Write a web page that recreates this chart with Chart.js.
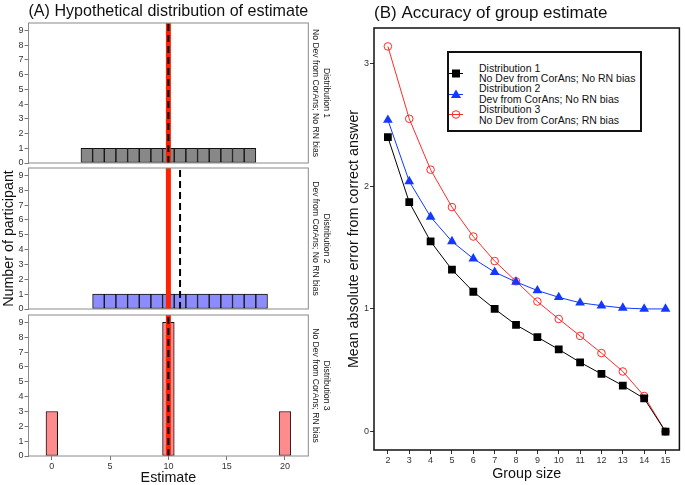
<!DOCTYPE html>
<html>
<head>
<meta charset="utf-8">
<script src="https://cdn.jsdelivr.net/npm/chart.js@4.4.0/dist/chart.umd.min.js"></script>
<style>
  body { margin: 0; background: #fff; font-family: "Liberation Sans", Arial, sans-serif; }
  #wrap { position: relative; width: 685px; height: 485px; overflow: hidden; }
  #wrap canvas { position: absolute; }
  #legend {
    position: absolute; left: 447px; top: 51px; width: 195px; height: 81px;
    box-sizing: border-box; border: 2px solid #111; background: #fff;
    padding-top: 9.5px; font-size: 10.5px; line-height: 10.4px; color: #111;
  }
  .item { position: relative; height: 20.8px; padding-left: 30px; white-space: nowrap; }
  .item svg { position: absolute; left: 0; top: 4.4px; }
</style>
</head>
<body>
<div id="wrap">
  <canvas id="dist1" width="340" height="165" style="left:0;top:0"></canvas>
  <canvas id="dist2" width="340" height="146" style="left:0;top:165px"></canvas>
  <canvas id="dist3" width="340" height="174" style="left:0;top:311px"></canvas>
  <canvas id="acc" width="345" height="485" style="left:340px;top:0"></canvas>
  <div id="legend"></div>
</div>
<script>
// (A) histograms: number of participants per estimate
const estimates = [0, 1, 2, 3, 4, 5, 6, 7, 8, 9, 10, 11, 12, 13, 14, 15, 16, 17, 18, 19, 20];
const dist1Counts = [0, 0, 0, 1, 1, 1, 1, 1, 1, 1, 1, 1, 1, 1, 1, 1, 1, 1, 0, 0, 0];
const dist2Counts = [0, 0, 0, 0, 1, 1, 1, 1, 1, 1, 1, 1, 1, 1, 1, 1, 1, 1, 1, 0, 0];
const dist3Counts = [3, 0, 0, 0, 0, 0, 0, 0, 0, 0, 9, 0, 0, 0, 0, 0, 0, 0, 0, 0, 3];
const correctAnswer = 10;
const groupMeans = [10, 11, 10];

const seriesNames = ["Distribution 1", "Distribution 2", "Distribution 3"];
const seriesNotes = ["No Dev from CorAns; No RN bias", "Dev from CorAns; No RN bias", "No Dev from CorAns; RN bias"];

// (B) mean absolute error by group size
const groupSizes = [2, 3, 4, 5, 6, 7, 8, 9, 10, 11, 12, 13, 14, 15];
const dist1Error = [2.40, 1.87, 1.55, 1.32, 1.14, 1.00, 0.87, 0.77, 0.67, 0.565, 0.47, 0.375, 0.27, 0];
const dist2Error = [2.54, 2.04, 1.75, 1.55, 1.41, 1.30, 1.22, 1.15, 1.095, 1.05, 1.027, 1.008, 1.0, 1.0];
const dist3Error = [3.14, 2.55, 2.135, 1.83, 1.59, 1.39, 1.225, 1.06, 0.918, 0.78, 0.64, 0.49, 0.29, 0];

const font = "'Liberation Sans', Arial, sans-serif";
Chart.defaults.font.family = font;
Chart.defaults.animation = false;

// draws the panel box around the plot area
const framePlugin = {
  id: "frame",
  afterDatasetsDraw(chart, args, opts) {
    const { ctx, chartArea: a } = chart;
    ctx.save();
    ctx.strokeStyle = opts.color;
    ctx.lineWidth = opts.width;
    ctx.strokeRect(a.left, a.top, a.right - a.left, a.bottom - a.top);
    ctx.restore();
  }
};

// fixed axis width, and no extra room for the end tick labels
function fixWidth(w) {
  return (s) => { s.width = w; s.paddingTop = 0; s.paddingBottom = 0; };
}

const countTop = 9.5;

function makeHist(id, counts, fill, mean, idx, last, pad) {
  const ctx = document.getElementById(id);
  return new Chart(ctx, {
    type: "bar",
    data: {
      datasets: [
        {
          type: "line",
          data: [{ x: mean, y: 0 }, { x: mean, y: countTop }],
          borderColor: "#000",
          borderWidth: 2,
          borderDash: [7, 4],
          pointRadius: 0,
          order: 0
        },
        {
          type: "line",
          data: [{ x: correctAnswer, y: 0 }, { x: correctAnswer, y: countTop }],
          borderColor: "#ff2200",
          borderWidth: 5,
          pointRadius: 0,
          order: 1
        },
        {
          data: estimates.map((e, i) => ({ x: e, y: counts[i] })),
          backgroundColor: fill,
          borderColor: "#111",
          borderWidth: 1,
          borderSkipped: false,
          barPercentage: 1,
          categoryPercentage: 1,
          order: 2
        }
      ]
    },
    options: {
      responsive: false,
      devicePixelRatio: 1,
      layout: { padding: pad },
      plugins: {
        legend: { display: false },
        tooltip: { enabled: false },
        frame: { color: "#8a8a8a", width: 1 },
        title: {
          display: idx === 0,
          text: "(A) Hypothetical distribution of estimate",
          align: "start",
          fullSize: false,
          color: "#111",
          font: { size: 17, weight: "normal", lineHeight: 1 },
          padding: { top: 3, bottom: 3 }
        }
      },
      scales: {
        x: {
          type: "linear",
          min: -2,
          max: 22,
          offset: false,
          display: last,
          ticks: { stepSize: 5, includeBounds: false, color: "#333", font: { size: 9 }, padding: 1, maxRotation: 0 },
          grid: { drawOnChartArea: false, offset: false, tickLength: 4, color: "#777" },
          border: { display: false },
          title: { display: last, text: "Estimate", color: "#111", font: { size: 14.3, lineHeight: 1 }, padding: { top: 0, bottom: 0 } },
          afterFit(s) { s.height = last ? 29 : 0; }
        },
        y: {
          min: 0,
          max: countTop,
          ticks: { stepSize: 1, includeBounds: false, autoSkip: false, color: "#333", font: { size: 9 }, padding: 1 },
          grid: { drawOnChartArea: false, tickLength: 4, color: "#777" },
          border: { display: false },
          title: {
            display: idx === 1,
            text: "Number of participant",
            color: "#111",
            font: { size: 14.3, lineHeight: 1 },
            padding: { top: 1.7, bottom: 0 }
          },
          afterFit: fixWidth(28.5)
        },
        y2: {
          position: "right",
          ticks: { display: false },
          grid: { display: false },
          border: { display: false },
          title: {
            display: true,
            text: [seriesNames[idx], seriesNotes[idx]],
            color: "#1a1a1a",
            font: { size: 8.6, lineHeight: 1.25 },
            padding: { top: 8.3, bottom: 0 }
          },
          afterFit: fixWidth(31.7)
        }
      }
    },
    plugins: [framePlugin]
  });
}

makeHist("dist1", dist1Counts, "#888888", groupMeans[0], 0, false, { top: 0, bottom: 2, left: 0, right: 0 });
makeHist("dist2", dist2Counts, "#8c8cff", groupMeans[1], 1, false, { top: 3, bottom: 2, left: 0, right: 0 });
makeHist("dist3", dist3Counts, "#ff8c8c", groupMeans[2], 2, true, { top: 4, bottom: 0, left: 0, right: 0 });

// (B) accuracy of group estimate
const pts = (vals) => groupSizes.map((g, i) => ({ x: g, y: vals[i] }));
const accChart = new Chart(document.getElementById("acc"), {
  type: "line",
  data: {
    datasets: [
      {
        label: seriesNames[0],
        data: pts(dist1Error),
        borderColor: "#000",
        borderWidth: 1,
        pointStyle: "rect",
        pointRadius: 5.5,
        pointBackgroundColor: "#000",
        pointBorderColor: "#000",
        pointBorderWidth: 0
      },
      {
        label: seriesNames[1],
        data: pts(dist2Error),
        borderColor: "#1438ff",
        borderWidth: 1,
        pointStyle: "triangle",
        pointRadius: 5.6,
        pointBackgroundColor: "#1438ff",
        pointBorderColor: "#1438ff",
        pointBorderWidth: 0
      },
      {
        label: seriesNames[2],
        data: pts(dist3Error),
        borderColor: "#ff2a2a",
        borderWidth: 1,
        pointStyle: "circle",
        pointRadius: 3.8,
        pointBackgroundColor: "rgba(0,0,0,0)",
        pointBorderColor: "#ff2a2a",
        pointBorderWidth: 1
      }
    ]
  },
  options: {
    responsive: false,
    devicePixelRatio: 1,
    layout: { padding: { top: 0, right: 2, bottom: 0, left: 0 } },
    plugins: {
      legend: { display: false },
      tooltip: { enabled: false },
      frame: { color: "#111", width: 1.5 },
      title: {
        display: true,
        text: "(B) Accuracy of group estimate",
        align: "start",
        fullSize: false,
        color: "#111",
        font: { size: 17, weight: "normal", lineHeight: 1 },
        padding: { top: 5.2, bottom: 5.8 }
      }
    },
    scales: {
      x: {
        type: "linear",
        min: 1.35,
        max: 15.65,
        ticks: { stepSize: 1, includeBounds: false, autoSkip: false, maxRotation: 0, color: "#333", font: { size: 9 }, padding: 1 },
        grid: { drawOnChartArea: false, tickLength: 4, color: "#333" },
        border: { display: false },
        title: { display: true, text: "Group size", color: "#111", font: { size: 14.3, lineHeight: 1 }, padding: { top: 0, bottom: 4 } },
        afterFit(s) { s.height = 35; }
      },
      y: {
        min: -0.15,
        max: 3.29,
        ticks: { stepSize: 1, includeBounds: false, color: "#333", font: { size: 9 }, padding: 1 },
        grid: { drawOnChartArea: false, tickLength: 4, color: "#333" },
        border: { display: false },
        title: {
          display: true,
          text: "Mean absolute error from correct answer",
          color: "#111",
          font: { size: 14.3, lineHeight: 1 },
          padding: { top: 6.8, bottom: 0 }
        },
        afterFit: fixWidth(34)
      }
    }
  },
  plugins: [framePlugin]
});

// legend box, built from the line datasets
function markerSvg(ds) {
  const c = ds.borderColor;
  let shape = "";
  if (ds.pointStyle === "rect") shape = `<rect x="3" y="2.5" width="8" height="8" fill="${c}"/>`;
  else if (ds.pointStyle === "triangle") shape = `<polygon points="7,1.5 12,10 2,10" fill="${c}"/>`;
  else shape = `<circle cx="7" cy="6.5" r="3.8" fill="none" stroke="${c}" stroke-width="1"/>`;
  return `<svg width="14" height="13"><line x1="0" y1="6.5" x2="14" y2="6.5" stroke="${c}" stroke-width="1"/>${shape}</svg>`;
}
const legendEl = document.getElementById("legend");
accChart.data.datasets.forEach((ds, i) => {
  const row = document.createElement("div");
  row.className = "item";
  row.innerHTML = markerSvg(ds) + "<div>" + ds.label + "</div><div>" + seriesNotes[i] + "</div>";
  legendEl.appendChild(row);
});
</script>
</body>
</html>
